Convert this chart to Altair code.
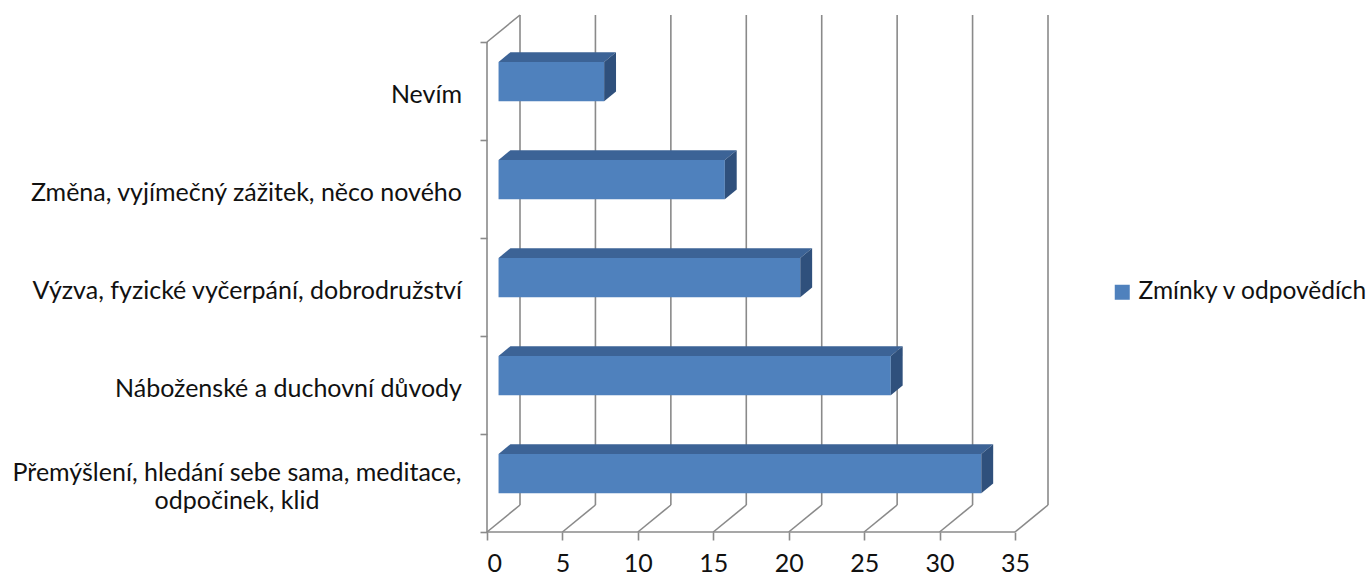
import altair as alt
import pandas as pd

# Answers, top to bottom, and how many responses mentioned each
category_lines = [
    ["Nevím"],
    ["Změna, vyjímečný zážitek, něco nového"],
    ["Výzva, fyzické vyčerpání, dobrodružství"],
    ["Náboženské a duchovní důvody"],
    ["Přemýšlení, hledání sebe sama, meditace,", "odpočinek, klid"],
]
mentions = [7, 15, 20, 26, 32]
series_name = "Zmínky v odpovědích"
x_ticks = [0, 5, 10, 15, 20, 25, 30, 35]

# Pseudo-3D box geometry (pixels)
FRONT_W = 528      # front floor edge, 0..35
ROW_H = 98         # one category band on the front plane
DEPTH_DX = 33      # shift from the front plane to the back wall
DEPTH_DY = 27
BAR_FRONT = 0.35   # depth of a bar's front face (0 = front, 1 = back wall)
BAR_BACK = 0.71    # depth of a bar's back face
BAR_HALF = 0.2     # half bar thickness, in bands
LABEL_GAP = 25
WRAP_CENTER = 250  # centre of wrapped labels, left of the axis
LINE_H = 28

FONT = "Lato"
FONT_SIZE = 25
TEXT = "#111111"
GRID = "#8a8a8a"
FRONT_COLOR = "#4f81bd"
TOP_COLOR = "#3c6396"
SIDE_COLOR = "#2f507c"

x_max = x_ticks[-1]
n = len(category_lines)
unit = FRONT_W / x_max
dx = DEPTH_DX / unit
dy = DEPTH_DY / ROW_H
W = FRONT_W + DEPTH_DX
H = n * ROW_H + DEPTH_DY

xs = alt.Scale(domain=[0, x_max + dx], nice=False, zero=False)
ys = alt.Scale(domain=[0, n + dy], nice=False, zero=False)
x_axis = alt.Axis(values=x_ticks, tickSize=8, domain=False, grid=False, title=None,
                  labelPadding=11)
y_axis = alt.Axis(values=list(range(n + 1)), tickSize=7, labels=False, domain=False,
                  grid=False, title=None)


def X(field):
    return alt.X(f"{field}:Q", scale=xs, axis=x_axis)


def Y(field):
    return alt.Y(f"{field}:Q", scale=ys, axis=y_axis)


def band_center(i):
    # first category sits in the top band
    return n - 1 - i + 0.5


# Box frame: back-wall gridlines, floor lines, left wall edges
frame_rows = []
for v in x_ticks:
    frame_rows.append({"x": v + dx, "x2": v + dx, "y": dy, "y2": n + dy})
    frame_rows.append({"x": v, "x2": v + dx, "y": 0, "y2": dy})
frame_rows.append({"x": 0, "x2": x_max, "y": 0, "y2": 0})
frame_rows.append({"x": 0, "x2": 0, "y": 0, "y2": n})
frame_rows.append({"x": 0, "x2": dx, "y": n, "y2": n + dy})
frame = alt.Chart(pd.DataFrame(frame_rows)).mark_rule(
    color=GRID, strokeWidth=1.6
).encode(x=X("x"), x2="x2", y=Y("y"), y2="y2")

# Bars: front face, top face and right-hand side face
f_shift_x, f_shift_y = BAR_FRONT * dx, BAR_FRONT * dy
depth_x, depth_y = (BAR_BACK - BAR_FRONT) * dx, (BAR_BACK - BAR_FRONT) * dy
front_rows, top_rows, side_rows = [], [], []
for i, v in enumerate(mentions):
    c = band_center(i)
    lo = c - BAR_HALF + f_shift_y
    hi = c + BAR_HALF + f_shift_y
    a, b = f_shift_x, v + f_shift_x
    front_rows.append({"x": a, "x2": b, "y": lo, "y2": hi, "series": series_name,
                       "value": v})
    for px, ylo, yhi in [(a, hi, hi), (a + depth_x, hi, hi + depth_y),
                         (b, hi, hi + depth_y), (b + depth_x, hi + depth_y, hi + depth_y)]:
        top_rows.append({"key": i, "x": px, "lo": ylo, "hi": yhi})
    for px, ylo, yhi in [(b, lo, hi), (b + depth_x, lo + depth_y, hi + depth_y)]:
        side_rows.append({"key": i, "x": px, "lo": ylo, "hi": yhi})

front = alt.Chart(pd.DataFrame(front_rows)).mark_rect().encode(
    x=X("x"), x2="x2", y=Y("y"), y2="y2",
    color=alt.Color("series:N", scale=alt.Scale(range=[FRONT_COLOR]),
                    legend=alt.Legend(title=None, orient="none", legendX=623, legendY=265,
                                      symbolType="square", symbolSize=225,
                                      symbolStrokeWidth=0, padding=0, labelLimit=0,
                                      labelFont=FONT, labelFontSize=24.5,
                                      labelColor=TEXT, labelOffset=4)),
)
top = alt.Chart(pd.DataFrame(top_rows)).mark_area(
    orient="vertical", color=TOP_COLOR, interpolate="linear"
).encode(x=X("x"), y=Y("lo"), y2="hi", detail="key:N")
side = alt.Chart(pd.DataFrame(side_rows)).mark_area(
    orient="vertical", color=SIDE_COLOR, interpolate="linear"
).encode(x=X("x"), y=Y("lo"), y2="hi", detail="key:N")

# Category labels left of the axis
label_df = pd.DataFrame({
    "y": [band_center(i) for i in range(n)],
    "text": ["\n".join(lines) for lines in category_lines],
    "wrapped": [len(lines) > 1 for lines in category_lines],
})
single = alt.Chart(label_df).transform_filter("!datum.wrapped").mark_text(
    align="right", baseline="middle", font=FONT, fontSize=FONT_SIZE, color=TEXT, dy=4
).encode(x=alt.value(-LABEL_GAP), y=Y("y"), text="text:N")
# two-line labels: lines centred on each other, the block centred on the band
wrapped = alt.Chart(label_df).transform_filter("datum.wrapped").mark_text(
    align="center", baseline="middle", font=FONT, fontSize=FONT_SIZE, color=TEXT,
    lineBreak="\n", lineHeight=LINE_H, dy=4 - LINE_H / 2
).encode(x=alt.value(-WRAP_CENTER), y=Y("y"), text="text:N")

chart = alt.layer(frame, front, top, side, single, wrapped).properties(
    width=W, height=H, autosize="none",
    padding={"left": 487, "top": 15, "right": 1367 - 487 - W, "bottom": 577 - 15 - H},
    background="white",
).configure_view(stroke=None).configure_axis(
    tickColor=GRID, tickWidth=1.6, labelFont=FONT, labelFontSize=FONT_SIZE,
    labelColor=TEXT
)

chart.save("out.html", embed_options={"renderer": "svg", "actions": False})
